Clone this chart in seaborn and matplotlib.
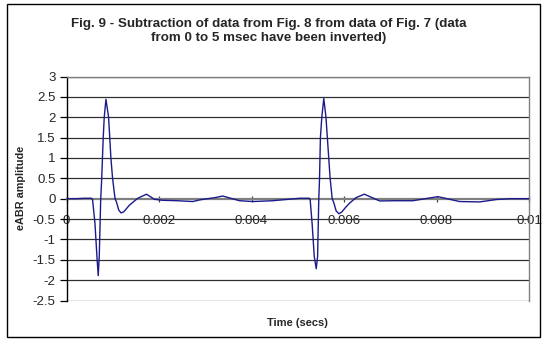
import matplotlib
matplotlib.use("Agg")
import matplotlib.pyplot as plt
import seaborn as sns
import pandas as pd
from matplotlib.patches import Rectangle

# Data (time in seconds, amplitude)
time_s = [0.0, 0.0002, 0.0004, 0.00054, 0.000563, 0.000615, 0.000658, 0.000686,
          0.000708, 0.00074, 0.00076, 0.000794, 0.000816, 0.000853, 0.00091,
          0.00096, 0.000996, 0.00105, 0.00108, 0.00113, 0.00118, 0.00124,
          0.0013, 0.00136, 0.00154, 0.00173, 0.0019, 0.00208, 0.0024, 0.00273, 0.00288,
          0.00323, 0.00338, 0.00374, 0.00403, 0.00446, 0.00504, 0.00525,
          0.005268, 0.00531, 0.005357, 0.0054, 0.005429, 0.005455, 0.00547,
          0.00549, 0.00552, 0.005563, 0.00561, 0.00567, 0.0057, 0.005745,
          0.00578, 0.00583, 0.00589, 0.00595, 0.00603, 0.00612, 0.00626, 0.00644,
          0.00677, 0.00713, 0.00749, 0.00803, 0.0085, 0.00893, 0.0093, 0.0096, 0.01]
amplitude = [0.0, 0.0, 0.01, 0.01, -0.02, -0.6, -1.42, -1.89,
             -1.42, 0.0, 0.46, 1.5, 2.0, 2.44, 2.0,
             1.0, 0.5, 0.0, -0.08, -0.28, -0.35, -0.32,
             -0.24, -0.16, 0.01, 0.11, -0.015, -0.04, -0.05, -0.07, -0.03,
             0.03, 0.065, -0.05, -0.07, -0.05, 0.01, 0.01,
             -0.02, -0.6, -1.42, -1.72, -1.42, 0.0, 0.46,
             1.5, 2.0, 2.46, 2.0, 1.0, 0.5, 0.0,
             -0.1, -0.3, -0.37, -0.33, -0.22, -0.11, 0.025, 0.11,
             -0.055, -0.05, -0.05, 0.05, -0.07, -0.08, -0.02, 0.0, 0.0]

y_ticks = [-2.5, -2, -1.5, -1, -0.5, 0, 0.5, 1, 1.5, 2, 2.5, 3]
y_tick_labels = ["-2.5", "-2", "-1.5", "-1", "-0.5", "0", "0.5", "1", "1.5", "2", "2.5", "3"]
x_ticks = [0, 0.002, 0.004, 0.006, 0.008, 0.01]
x_tick_labels = ["0", "0.002", "0.004", "0.006", "0.008", "0.01"]

title = "Fig. 9 - Subtraction of data from Fig. 8 from data of Fig. 7 (data\nfrom 0 to 5 msec have been inverted)"
x_label = "Time (secs)"
y_label = "eABR amplitude"

df = pd.DataFrame({"time": time_s, "amp": amplitude})

sns.set_style("white")
plt.rcParams["font.family"] = ["Liberation Sans", "DejaVu Sans"]

W, H = 547, 339
fig = plt.figure(figsize=(W / 100, H / 100), dpi=100)
fig.patch.set_facecolor("white")

left, right, top, bottom = 66.5, 529, 76.5, 300.5
ax = fig.add_axes([left / W, 1 - bottom / H, (right - left) / W, (bottom - top) / H])

# gridlines
for yv in y_ticks:
    if yv == 0:
        continue
    ax.axhline(yv, color="#303030", lw=0.9, zorder=1)

sns.lineplot(data=df, x="time", y="amp", ax=ax, color="#1a1a8c", lw=1.0, zorder=3,
             estimator=None, sort=False)

ax.set_xlim(0, 0.01)
ax.set_ylim(-2.5, 3)

ax.spines["bottom"].set_position(("data", 0))
ax.spines["bottom"].set_color("#808080")
ax.spines["bottom"].set_linewidth(1.6)
ax.spines["bottom"].set_zorder(2)
ax.spines["left"].set_color("black")
ax.spines["left"].set_linewidth(1.0)
ax.spines["right"].set_color("#808080")
ax.spines["right"].set_linewidth(1.0)
ax.spines["top"].set_color("#808080")
ax.spines["top"].set_linewidth(1.0)

ax.set_yticks(y_ticks)
ax.set_yticklabels(y_tick_labels)
ax.set_xticks(x_ticks)
ax.set_xticklabels(x_tick_labels)
ax.tick_params(axis="y", direction="out", length=5, width=0.9, color="black",
               labelsize=9.5, pad=3, left=True)
ax.tick_params(axis="x", direction="inout", length=5, width=0.9, color="#404040",
               labelsize=9.5, pad=9, bottom=True)

ax.set_xlabel("")
ax.set_ylabel("")
fig.text((left + right) / 2 / W, 1 - 323 / H, x_label, ha="center", va="center",
         fontsize=8, fontweight="bold")
fig.text(21.5 / W, 1 - 188 / H, y_label, ha="center", va="center", rotation=90,
         fontsize=7.8, fontweight="bold")
fig.text(268.5 / W, 1 - 31 / H, title, ha="center", va="center", fontsize=9.6,
         fontweight="bold", linespacing=1.2)

# chart area border
fig.patches.append(Rectangle((6.5 / W, 2.5 / H), (540 - 6.5) / W, (336 - 3) / H,
                             transform=fig.transFigure, fill=False, edgecolor="black",
                             lw=1.0))

fig.savefig("out.png", dpi=100)
